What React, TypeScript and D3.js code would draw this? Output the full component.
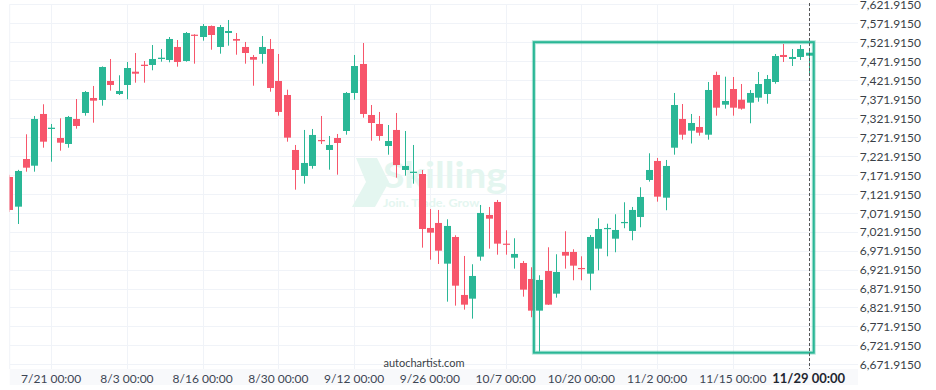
import React from 'react';
import * as d3 from 'd3';

const opens = [
  7166.2, 7087.9, 7213.7, 7196.0, 7332.5, 7292.9, 7269.1, 7253.3, 7319.3, 7335.1,
  7374.7, 7369.4, 7419.5, 7385.2, 7409.0, 7444.1, 7462.5, 7461.8, 7477.6, 7475.0,
  7509.3, 7472.3, 7541.7, 7535.6, 7564.7, 7509.3, 7546.2, 7530.4, 7509.3, 7482.9,
  7490.8, 7504.0, 7419.5, 7382.6, 7237.5, 7168.9, 7195.3, 7263.9, 7237.5, 7269.1,
  7287.6, 7387.9, 7464.4, 7329.8, 7306.1, 7248.0, 7290.3, 7184.7, 7176.8, 7174.1,
  7031.7, 7044.9, 6937.5, 7007.9, 6854.9, 6845.1, 6956.0, 7066.0, 7100.3, 6990.3,
  6953.3, 6939.3, 6897.1, 6813.5, 6918.2, 6858.3, 6968.4, 6968.4, 6926.1, 6911.1,
  6977.1, 7029.0, 7003.4, 7044.9, 7023.8, 7060.7, 7158.3, 7208.5, 7111.6, 7243.5,
  7319.3, 7288.4, 7298.2, 7277.8, 7435.4, 7357.0, 7398.4, 7370.2, 7362.3, 7375.5,
  7385.2, 7416.9, 7488.2, 7477.6, 7482.9, 7486.3,
];
const closes = [
  7079.2, 7182.1, 7190.8, 7319.3, 7259.4, 7296.3, 7256.7, 7324.6, 7300.8, 7390.5,
  7367.6, 7456.5, 7409.0, 7393.2, 7453.8, 7438.8, 7459.1, 7477.6, 7481.0, 7530.4,
  7469.7, 7546.2, 7539.1, 7564.7, 7540.9, 7562.0, 7551.5, 7525.9, 7493.4, 7475.7,
  7509.3, 7401.1, 7337.8, 7270.0, 7184.7, 7203.2, 7277.1, 7260.5, 7250.7, 7255.9,
  7387.9, 7459.1, 7332.5, 7308.7, 7274.4, 7261.2, 7197.9, 7195.3, 7180.2, 7029.0,
  7019.3, 6971.8, 7037.0, 6879.4, 6829.3, 6905.0, 7071.3, 7056.2, 6990.3, 6987.6,
  6963.1, 6868.9, 6813.5, 6894.5, 6829.3, 6915.6, 6958.6, 6932.2, 6923.5, 7007.9,
  7029.0, 7031.7, 7026.4, 7047.5, 7079.2, 7113.5, 7184.7, 7114.3, 7195.3, 7356.2,
  7277.8, 7308.7, 7283.1, 7395.8, 7349.1, 7366.8, 7349.1, 7346.5, 7387.9, 7411.6,
  7424.8, 7485.5, 7482.9, 7482.9, 7504.0, 7494.2,
];
const highs = [
  7172.0, 7185.0, 7278.9, 7327.2, 7358.1, 7306.1, 7321.1, 7327.2, 7372.0, 7393.2,
  7406.4, 7458.0, 7477.6, 7434.6, 7469.7, 7493.4, 7472.3, 7514.5, 7504.0, 7535.6,
  7527.7, 7548.8, 7543.0, 7569.9, 7566.0, 7567.3, 7580.5, 7546.2, 7522.5, 7488.2,
  7538.3, 7530.4, 7490.8, 7396.6, 7250.7, 7290.3, 7292.9, 7327.2, 7274.4, 7279.7,
  7390.5, 7488.2, 7519.8, 7356.2, 7337.8, 7303.4, 7335.1, 7287.6, 7250.7, 7184.7,
  7081.8, 7079.2, 7054.6, 7012.4, 6957.8, 6935.9, 7092.4, 7087.1, 7105.6, 7025.6,
  7004.5, 6944.6, 6928.0, 6906.9, 6980.7, 6962.3, 7023.0, 6975.5, 6957.0, 7013.0,
  7057.3, 7043.0, 7067.8, 7099.5, 7087.1, 7139.1, 7228.8, 7216.4, 7211.1, 7387.9,
  7358.8, 7332.5, 7327.2, 7416.9, 7444.1, 7430.9, 7430.1, 7411.6, 7395.8, 7443.3,
  7435.4, 7490.8, 7517.2, 7504.0, 7514.5, 7501.3,
];
const lows = [
  7074.0, 7042.2, 7180.2, 7180.2, 7243.5, 7206.6, 7235.6, 7243.5, 7293.7, 7328.0,
  7309.5, 7354.4, 7394.0, 7382.6, 7371.3, 7415.1, 7415.1, 7447.8, 7470.5, 7468.9,
  7457.3, 7470.5, 7465.2, 7525.9, 7502.1, 7491.6, 7512.7, 7488.9, 7465.2, 7407.1,
  7465.2, 7391.3, 7328.0, 7259.4, 7132.7, 7148.6, 7188.1, 7253.3, 7185.5, 7172.3,
  7277.8, 7370.2, 7322.7, 7262.0, 7262.0, 7225.1, 7164.4, 7169.7, 7148.6, 6979.7,
  6948.0, 6936.7, 6837.2, 6826.7, 6816.1, 6792.4, 6945.4, 6977.1, 6961.2, 6961.2,
  6924.3, 6850.4, 6796.1, 6705.3, 6828.5, 6847.8, 6924.3, 6893.7, 6893.7, 6867.3,
  6920.1, 6957.0, 6967.6, 7030.9, 6999.2, 7033.5, 7153.9, 7101.1, 7078.4, 7225.1,
  7264.7, 7254.6, 7275.2, 7264.7, 7328.0, 7346.5, 7328.0, 7343.8, 7307.9, 7364.9,
  7359.6, 7412.4, 7469.7, 7459.1, 7475.0, 7439.8,
];

const xTickIndices = [5, 14, 23, 32, 41, 50, 59, 68, 77, 86, 95];
const xTickLabels = [
  '7/21 00:00', '8/3 00:00', '8/16 00:00', '8/30 00:00', '9/12 00:00', '9/26 00:00',
  '10/7 00:00', '10/20 00:00', '11/2 00:00', '11/15 00:00', '11/29 00:00',
];
const yTickValues = [
  6671.915, 6721.915, 6771.915, 6821.915, 6871.915, 6921.915, 6971.915, 7021.915,
  7071.915, 7121.915, 7171.915, 7221.915, 7271.915, 7321.915, 7371.915, 7421.915,
  7471.915, 7521.915, 7571.915, 7621.915,
];
const boxStartIndex = [62.35];
const boxEndIndex = [95.6];
const boxTopPrice = [7521.915];
const boxBottomPrice = [6702.6];

const W = 936;
const H = 390;
const PLOT_L = 9.7;
const PLOT_R = 858;
const PLOT_T = 4.3;
const AXIS_TOP = 369;
const AXIS_BOTTOM = 385;

const GREEN = '#2ab796';
const RED = '#f7566b';
const GRID = '#f0f3f8';
const FONT = 'Lato, "Open Sans", sans-serif';

export default function App() {
  const x = d3.scaleLinear().domain([0, 95]).range([9.1, 808.7]);
  const y = d3.scaleLinear().domain([6671.915, 7621.915]).range([364.3, 4.3]);
  const fmt = d3.format(',.4f');

  const bx0 = x(boxStartIndex[0]);
  const bx1 = x(boxEndIndex[0]);
  const by0 = y(boxTopPrice[0]);
  const by1 = y(boxBottomPrice[0]);
  const lastX = Math.round(x(95)) + 0.5;

  return (
    <svg
      width={W}
      height={H}
      style={{ position: 'absolute', left: 0, top: 0, background: '#fff' }}
      fontFamily={FONT}
    >
      <defs>
        <clipPath id="plotClip">
          <rect x={PLOT_L} y={0} width={PLOT_R - PLOT_L} height={AXIS_TOP} />
        </clipPath>
      </defs>
      <rect x={0} y={0} width={W} height={H} fill="#fff" />

      {/* gridlines */}
      {yTickValues.map((v) => (
        <line key={'h' + v} x1={PLOT_L} x2={PLOT_R} y1={Math.round(y(v)) + 0.5} y2={Math.round(y(v)) + 0.5} stroke={GRID} strokeWidth={1} />
      ))}
      <line x1={PLOT_L} x2={PLOT_L} y1={PLOT_T} y2={AXIS_TOP} stroke={GRID} />
      {xTickIndices.map((i) => (
        <line key={'v' + i} x1={Math.round(x(i)) + 0.5} x2={Math.round(x(i)) + 0.5} y1={PLOT_T} y2={AXIS_TOP} stroke={GRID} />
      ))}

      {/* watermark */}
      <g fill="#e4f6f0">
        <polygon points="356,158 377,158 389,182 375,207 352,207 366,182" />
        <text x={383} y={188} fontSize={36} fontWeight={700} textLength={124} lengthAdjust="spacingAndGlyphs">Skilling</text>
        <text x={383} y={206.5} fontSize={11} fontWeight={700} textLength={99} lengthAdjust="spacingAndGlyphs">Join. Trade. Grow.</text>
      </g>

      {/* candles */}
      <g clipPath="url(#plotClip)">
        {opens.map((o, i) => {
          const c = closes[i];
          const col = c >= o ? GREEN : RED;
          const cx = x(i);
          const wx = Math.round(cx) + 0.5;
          const top = y(Math.max(o, c));
          const bot = y(Math.min(o, c));
          return (
            <g key={i}>
              <line x1={wx} x2={wx} y1={y(highs[i])} y2={y(lows[i])} stroke={col} strokeWidth={1} />
              <rect x={Math.round(cx) - 3} y={top} width={7} height={Math.max(1.2, bot - top)} fill={col} />
            </g>
          );
        })}
      </g>

      {/* pattern box */}
      <rect x={bx0} y={by0} width={bx1 - bx0} height={by1 - by0} fill="none" stroke="#2ab796" strokeOpacity={0.35} strokeWidth={4} />
      <rect x={bx0} y={by0} width={bx1 - bx0} height={by1 - by0} fill="none" stroke="#2ab796" strokeWidth={2} />

      {/* last bar dashed line */}
      <line x1={lastX} x2={lastX} y1={3} y2={AXIS_TOP} stroke="#555" strokeWidth={1} strokeDasharray="3,2" />

      {/* x axis band */}
      <rect x={PLOT_L} y={AXIS_TOP} width={PLOT_R - PLOT_L} height={AXIS_BOTTOM - AXIS_TOP} fill="#f8f9fb" />
      {xTickIndices.map((i, k) => {
        const last = k === xTickIndices.length - 1;
        return (
          <text
            key={'xl' + i}
            x={x(i)}
            y={382.5}
            textAnchor="middle"
            fontSize={last ? 13 : 12}
            fontWeight={last ? 700 : 400}
            fill={last ? '#1f2630' : '#3d4654'}
          >
            {xTickLabels[k]}
          </text>
        );
      })}

      {/* y axis labels */}
      {yTickValues.map((v) => (
        <text key={'yl' + v} x={921} y={y(v) + 4.8} textAnchor="end" fontSize={12} fill="#3a3f47">
          {fmt(v)}
        </text>
      ))}

      <text x={424} y={367} textAnchor="middle" fontSize={11} fill="#3a3f47">autochartist.com</text>
    </svg>
  );
}
